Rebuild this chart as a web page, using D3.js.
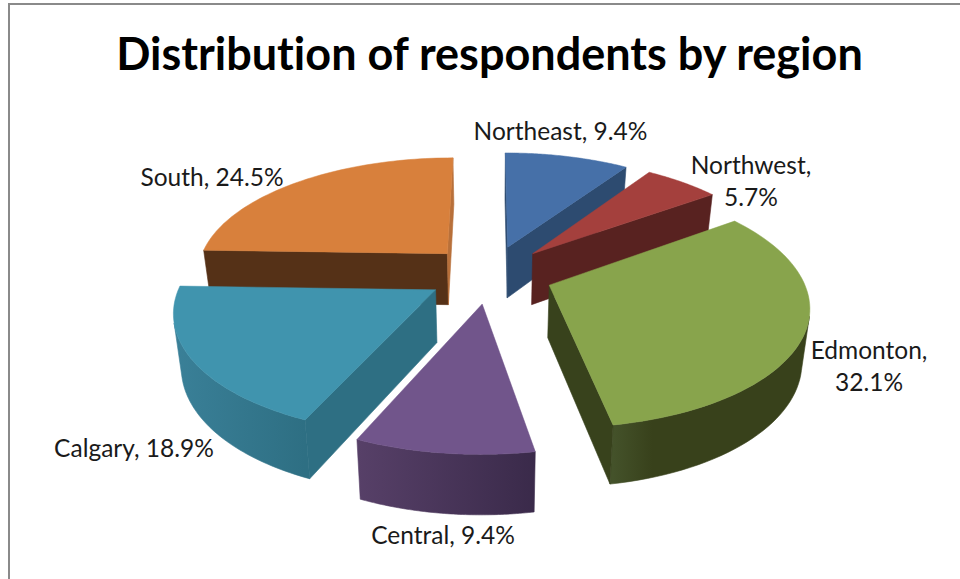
<!DOCTYPE html>
<html><head><meta charset="utf-8">
<script src="https://cdn.jsdelivr.net/npm/d3@7/dist/d3.min.js"></script>
<style>html,body{margin:0;padding:0;background:#fff;overflow:hidden}
text{font-family:Lato,"Open Sans",sans-serif;fill:#1a1a1a;font-variant-ligatures:none}</style></head>
<body><svg id="c" width="960" height="579"></svg>
<script>
const categories = ["Northeast","Northwest","Edmonton","Central","Calgary","South"];
const shares = [9.4,5.7,32.1,9.4,18.9,24.5];
const topColors = ["#4670A8","#A4403D","#88A44C","#71558B","#4094AE","#D8803C"];
const wallColors = ["#2D4B70","#582220","#38421C","#45325A","#2E6F83","#553117"];
const outerFrom = ["#2D4B70","#582220","#44522A","#574068","#3A8098","#553117"];
const outerTo = ["#2D4B70","#582220","#38411B","#3A2A4A","#2E6F83","#553117"];
const labelLines = [["Northeast, 9.4%"],["Northwest,","5.7%"],["Edmonton,","32.1%"],["Central, 9.4%"],["Calgary, 18.9%"],["South, 24.5%"]];
const labelAt = [[560.5,140],[751,174],[869,359],[443,544],[134,457],[212,186]];

const svg = d3.select("#c");
const cx=490, cy=274, Rx=252, Ry=116.5, D=6.44, explode=.25, depth=52, shrink=.975;
const persp = Z => D/(D+Z);
const topPt = (X,Z)=>{const s=persp(Z);return [cx+Rx*X*s, cy-Ry*Z*s];};
const botPt = (X,Z)=>{const p=topPt(X,Z),s=persp(Z);return [cx+(p[0]-cx)*shrink, p[1]+depth*Math.pow(s,.7)];};
const line = d3.line();
const arcs = d3.pie().value(d=>d).sort(null).startAngle(0).endAngle(2*Math.PI)(shares);
const defs = svg.append("defs");

svg.append("rect").attr("x",9).attr("y",4).attr("width",990).attr("height",640)
  .attr("fill","#fff").attr("stroke","#8a8a8a").attr("stroke-width",2);

const order = arcs.map((a,i)=>({a,i,mid:(a.startAngle+a.endAngle)/2}))
  .sort((p,q)=>Math.cos(q.mid)-Math.cos(p.mid));

order.forEach(({a,i,mid})=>{
  const ox=explode*Math.sin(mid), oz=explode*Math.cos(mid);
  const ang=d3.range(0,61).map(k=>a.startAngle+(a.endAngle-a.startAngle)*k/60);
  const rim=ang.map(t=>[ox+Math.sin(t),oz+Math.cos(t)]);
  const apex=[ox,oz];
  const g=svg.append("g").attr("class","slice").attr("data-name",categories[i]);
  const topRim=rim.map(p=>topPt(...p)), botRim=rim.map(p=>botPt(...p));
  const xs=topRim.map(p=>p[0]);
  const gid="grad"+i;
  const grad=defs.append("linearGradient").attr("id",gid).attr("gradientUnits","userSpaceOnUse")
    .attr("x1",d3.min(xs)).attr("x2",d3.max(xs)).attr("y1",0).attr("y2",0);
  grad.append("stop").attr("offset",0).attr("stop-color",outerFrom[i]);
  grad.append("stop").attr("offset",i===2?.2:1).attr("stop-color",outerTo[i]);
  const front=d3.range(0,60).filter(k=>{
    const tx=topRim[k+1][0]-topRim[k][0], ty=topRim[k+1][1]-topRim[k][1];
    const vx=botRim[k][0]-topRim[k][0], vy=botRim[k][1]-topRim[k][1];
    return tx*vy-ty*vx<0;
  });
  if(front.length){
    const k0=d3.min(front), k1=d3.max(front)+1;
    const t=topRim.slice(k0,k1+1), b=botRim.slice(k0,k1+1).reverse();
    g.append("path").attr("d",line(t.concat(b))+"Z").attr("fill",`url(#${gid})`)
      .attr("stroke",`url(#${gid})`).attr("stroke-width",.6);
  }
  [0,60].forEach(k=>{
    const q=[topPt(...apex),topRim[k],botRim[k],botPt(...apex)];
    const area=d3.polygonArea(q)*(k===0?1:-1);
    if(area<0) return;
    const col=(i===5&&k===60)?"#B8703A":wallColors[i];
    g.append("path").attr("d",line(q)+"Z").attr("fill",col).attr("stroke",col).attr("stroke-width",.6);
  });
  const face=[topPt(...apex)].concat(topRim);
  g.append("path").attr("d",line(face)+"Z").attr("fill",topColors[i]).attr("stroke",topColors[i]).attr("stroke-width",.5);
});

svg.append("text").attr("x",489.5).attr("y",70).attr("text-anchor","middle")
  .attr("font-size",45).attr("font-weight",700).style("fill","#000")
  .text("Distribution of respondents by region");

labelLines.forEach((ls,i)=>{
  ls.forEach((s,j)=>svg.append("text").attr("x",labelAt[i][0]).attr("y",labelAt[i][1]+j*31.5)
    .attr("text-anchor","middle").attr("font-size",24.5).text(s));
});
</script></body></html>
